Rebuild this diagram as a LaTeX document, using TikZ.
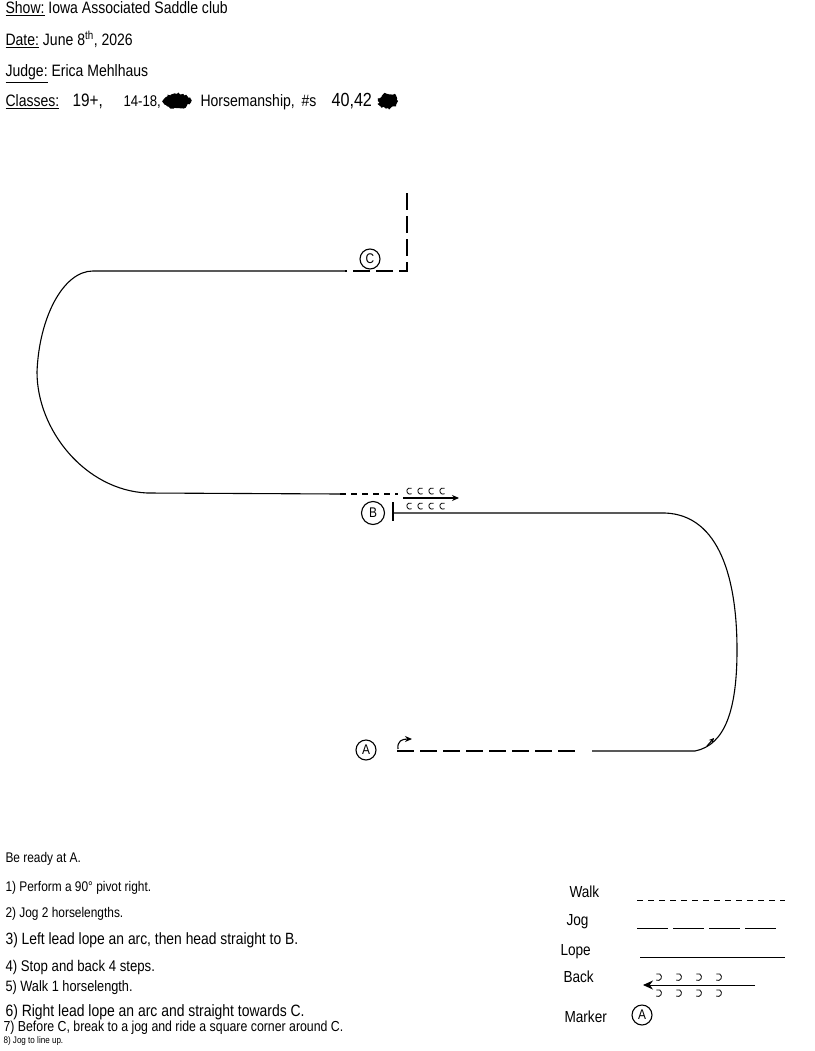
\documentclass[tikz,border=0pt]{standalone}
\usepackage{fontspec}
\setmainfont[FakeStretch=0.85]{Liberation Sans}
\usetikzlibrary{arrows.meta,decorations.pathmorphing}
\begin{document}
\begin{tikzpicture}[x=1pt,y=-1pt,line width=1.1pt,
  hdr/.style={anchor=base west,inner sep=0,font=\fontsize{16.5}{18}\selectfont},
  instr/.style={anchor=base west,inner sep=0,font=\fontsize{14}{15}\selectfont},
  leg/.style={anchor=base west,inner sep=0,font=\fontsize{16}{17}\selectfont},
  marker/.style={circle,draw,line width=1.1pt,inner sep=0,minimum size=20pt,font=\fontsize{14}{14}\selectfont},
  walkline/.style={dash pattern=on 6pt off 5pt},
  jogline/.style={dash pattern=on 17pt off 6pt},
  scribble/.style={fill=black,decorate,decoration={random steps,segment length=2pt,amplitude=1.5pt}},
  tip/.style={-{Stealth[length=7pt,width=6pt]}}]
\useasboundingbox (0,0) rectangle (814,1051);

% header
\node[hdr] (show) at (5,14) {\underline{Show:} Iowa Associated Saddle club};
\node[hdr] (date) at (5,46) {\underline{Date:} June 8\textsuperscript{th}, 2026};
\node[hdr] (judge) at (5,77) {\underline{Judge:} Erica Mehlhaus};
\node[hdr] (cls) at (5,107) {\underline{Classes:}};
\node[hdr,font=\fontsize{18}{19}\selectfont] (c19) at (72,107) {19+,};
\node[hdr,font=\fontsize{15.5}{17}\selectfont] (c14) at (123,107) {14-18,};
\fill[scribble] (177,101) ellipse (14 and 7);
\node[hdr] (horse) at (200,107) {Horsemanship,};
\node[hdr] (nums) at (301,107) {\#s};
\node[hdr,font=\fontsize{19}{20}\selectfont] (n4042) at (331,107) {40,42};
\fill[scribble] (388,101) ellipse (10 and 7);

% markers
\node[marker] (C) at (370,259) {C};
\node[marker,minimum size=23pt] (B) at (373,513) {B};
\node[marker] (A) at (366,750) {A};

% coordinates of the pattern
\coordinate (cTop) at (407,193);
\coordinate (cCorner) at (407,271);
\coordinate (cJog) at (345,271);
\coordinate (tl) at (93,271);
\coordinate (lmid) at (37,372);
\coordinate (bl) at (147,493);
\coordinate (walkS) at (340,494);
\coordinate (walkE) at (398,494);
\coordinate (bTick1) at (393,502);
\coordinate (bTick2) at (393,521);
\coordinate (bLine) at (393,513);
\coordinate (tr) at (665,513);
\coordinate (rmid) at (737,650);
\coordinate (br) at (695,751);
\coordinate (lopeS) at (592,751);
\coordinate (jogE) at (577,751);
\coordinate (jogS) at (397,751);

% C: jog, square corner
\draw[jogline] (cTop) -- (cCorner) -- (cJog);
% right lead lope arc
\draw (cJog) -- (tl) .. controls (63,271) and (39,318) .. (lmid)
      .. controls (37,430) and (85,490) .. (bl) -- (walkS);
% walk
\draw[walkline] (walkS) -- (walkE);
% B stop
\draw (bTick1) -- (bTick2);
% back arrow at B
\coordinate (bkS) at (403,498);
\coordinate (bkE) at (459,498);
\draw[tip] (bkS) -- (bkE);
\foreach \x in {410,421,432,443} {
  \draw[line width=0.8pt] ([shift={(60:3.2)}]\x,491) arc (60:300:3.2);
  \draw[line width=0.8pt] ([shift={(60:3.2)}]\x,506) arc (60:300:3.2);
}
% left lead lope from A side to B
\draw (bLine) -- (tr) .. controls (720,515) and (737,580) .. (rmid)
      .. controls (737,710) and (725,745) .. (br) -- (lopeS);
\draw[-{Stealth[length=5pt,width=5pt]}] (707,746) -- (714,738);
% jog 2 horselengths
\draw[jogline] (jogS) -- (jogE);
% pivot
\draw[tip] (398,749) .. controls (397,741) and (402,739) .. (412,739);

% instructions
\node[instr] (i0) at (5,862) {Be ready at A.};
\node[instr] (i1) at (5,891) {1) Perform a 90° pivot right.};
\node[instr] (i2) at (5,917) {2) Jog 2 horselengths.};
\node[instr,font=\fontsize{16.3}{17}\selectfont] (i3) at (5,944) {3) Left lead lope an arc, then head straight to B.};
\node[instr,font=\fontsize{15.5}{17}\selectfont] (i4) at (5,971) {4) Stop and back 4 steps.};
\node[instr,font=\fontsize{15}{16}\selectfont] (i5) at (5,991) {5) Walk 1 horselength.};
\node[instr,font=\fontsize{16.4}{17}\selectfont] (i6) at (5,1016) {6) Right lead lope an arc and straight towards C.};
\node[instr,font=\fontsize{14.5}{15}\selectfont] (i7) at (3,1031) {7) Before C, break to a jog and ride a square corner around C.};
\node[instr,font=\fontsize{9.5}{10}\selectfont] (i8) at (3,1043) {8) Jog to line up.};

% legend
\node[leg] (lw) at (569,897) {Walk};
\node[leg] (lj) at (566,925) {Jog};
\node[leg] (ll) at (560,955) {Lope};
\node[leg] (lb) at (563,982) {Back};
\node[leg] (lm) at (564,1022) {Marker};
\coordinate (w1) at (637,900); \coordinate (w2) at (785,900);
\coordinate (j1) at (637,928); \coordinate (j2) at (777,928);
\coordinate (l1) at (640,957); \coordinate (l2) at (785,957);
\coordinate (b1) at (755,985); \coordinate (b2) at (643,985);
\draw[walkline,line width=0.9pt] (w1) -- (w2);
\draw[dash pattern=on 31pt off 5pt,line width=0.9pt] (j1) -- (j2);
\draw[line width=0.9pt] (l1) -- (l2);
\draw[-{Stealth[length=10pt,width=9pt]},line width=0.9pt] (b1) -- (b2);
\foreach \x in {658,678,698,718} {
  \draw[line width=0.8pt] ([shift={(120:3.5)}]\x,977) arc (120:-120:3.5);
  \draw[line width=0.8pt] ([shift={(120:3.5)}]\x,993) arc (120:-120:3.5);
}
\node[marker] (lA) at (642,1015) {A};
\end{tikzpicture}
\end{document}
